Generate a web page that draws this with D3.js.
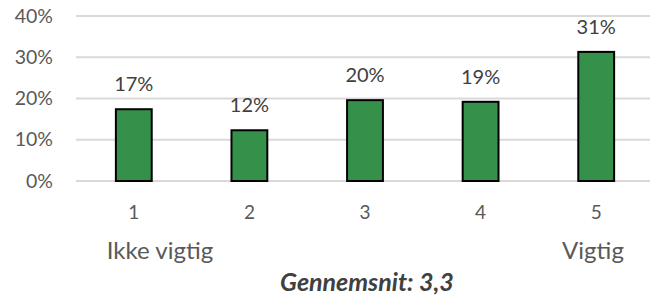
<!DOCTYPE html>
<html>
<head>
<meta charset="utf-8">
<script src="https://cdn.jsdelivr.net/npm/d3@7"></script>
<style>
  body { margin: 0; background: #fff; }
  text { font-family: Lato, "Open Sans", sans-serif; }
</style>
</head>
<body>
<svg id="chart" width="650" height="298"></svg>
<script>
// data
var categories = ["1", "2", "3", "4", "5"];
var shares = [0.174, 0.123, 0.196, 0.192, 0.313];
var yTicks = [0, 0.1, 0.2, 0.3, 0.4];
var endLabels = [{ text: "Ikke vigtig", x: 160 }, { text: "Vigtig", x: 593 }];
var note = "Gennemsnit: 3,3";

var svg = d3.select("#chart");

var x = d3.scaleBand()
    .domain(categories)
    .range([76, 654])
    .paddingInner(0.69)
    .paddingOuter(0.345);

var y = d3.scaleLinear()
    .domain([0, 0.4])
    .range([181, 16]);

var pct = d3.format(".0%");

// gridlines
svg.append("g").selectAll("line")
    .data(yTicks)
    .enter().append("line")
    .attr("x1", 76).attr("x2", 650)
    .attr("y1", d => y(d)).attr("y2", d => y(d))
    .attr("stroke", "#d9d9d9")
    .attr("stroke-width", 2);

// y labels
svg.append("g").selectAll("text")
    .data(yTicks)
    .enter().append("text")
    .attr("x", 53)
    .attr("y", d => y(d) + 6.5)
    .attr("text-anchor", "end")
    .attr("fill", "#595959")
    .style("font-size", "19.5px")
    .text(d => pct(d));

// bars
svg.append("g").selectAll("rect")
    .data(shares)
    .enter().append("rect")
    .attr("x", (d, i) => x(categories[i]))
    .attr("y", d => y(d))
    .attr("width", x.bandwidth())
    .attr("height", d => y(0) - y(d))
    .attr("fill", "#35914a")
    .attr("stroke", "#000")
    .attr("stroke-width", 2);

// value labels
svg.append("g").selectAll("text")
    .data(shares)
    .enter().append("text")
    .attr("x", (d, i) => x(categories[i]) + x.bandwidth() / 2)
    .attr("y", d => y(d) - 18)
    .attr("text-anchor", "middle")
    .attr("fill", "#404040")
    .style("font-size", "20px")
    .text(d => pct(d));

// category labels
svg.append("g").selectAll("text")
    .data(categories)
    .enter().append("text")
    .attr("x", d => x(d) + x.bandwidth() / 2)
    .attr("y", 219)
    .attr("text-anchor", "middle")
    .attr("fill", "#595959")
    .style("font-size", "19px")
    .text(d => d);

svg.append("g").selectAll("text")
    .data(endLabels)
    .enter().append("text")
    .attr("x", d => d.x)
    .attr("y", 259)
    .attr("text-anchor", "middle")
    .attr("fill", "#595959")
    .style("font-size", "24px")
    .text(d => d.text);

svg.append("text")
    .attr("x", 367)
    .attr("y", 291)
    .attr("text-anchor", "middle")
    .attr("fill", "#404040")
    .style("font-size", "25px")
    .style("font-weight", "bold")
    .style("font-style", "italic")
    .text(note);
</script>
</body>
</html>
